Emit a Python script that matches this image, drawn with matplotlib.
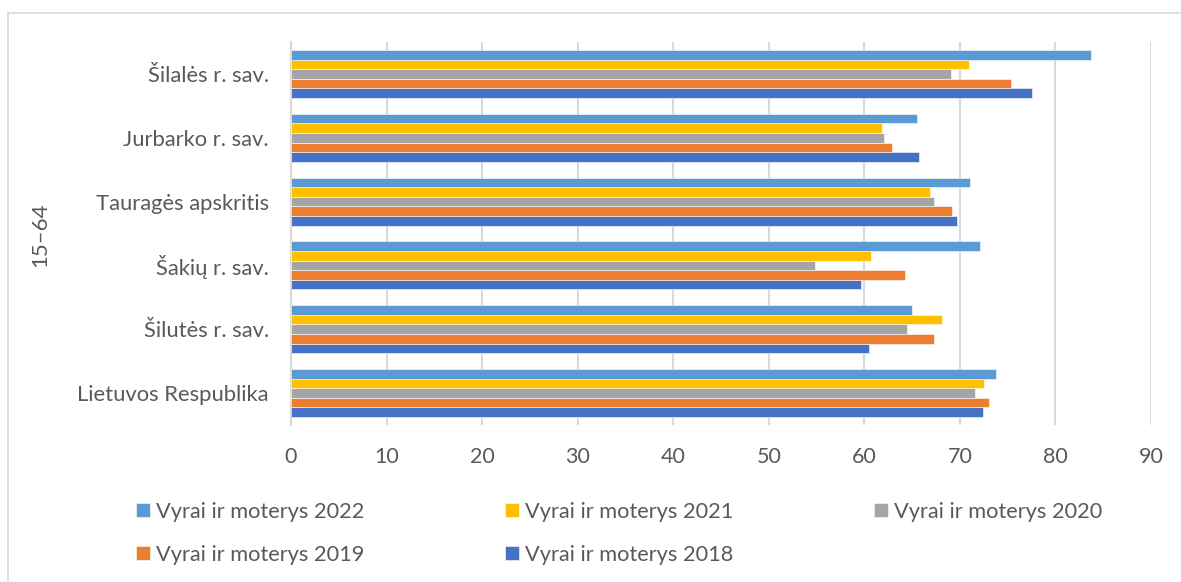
import numpy as np
import matplotlib.pyplot as plt
from matplotlib.patches import Rectangle

# kategorijos (iš apačios į viršų)
regions = ["Lietuvos Respublika", "Šilutės r. sav.", "Šakių r. sav.",
           "Tauragės apskritis", "Jurbarko r. sav.", "Šilalės r. sav."]
years = ["2018", "2019", "2020", "2021", "2022"]
v2018 = [72.4, 60.5, 59.7, 69.7, 65.7, 77.5]
v2019 = [73.0, 67.3, 64.3, 69.2, 62.9, 75.3]
v2020 = [71.6, 64.5, 54.8, 67.3, 62.1, 69.1]
v2021 = [72.5, 68.1, 60.7, 66.9, 61.8, 71.0]
v2022 = [73.8, 65.0, 72.1, 71.1, 65.5, 83.7]
x_ticks = [0, 10, 20, 30, 40, 50, 60, 70, 80, 90]

colors = ["#4472C4", "#ED7D31", "#A5A5A5", "#FFC000", "#5B9BD5"]
txt = "#595959"

plt.rcParams['font.family'] = ['Lato', 'DejaVu Sans']

fig = plt.figure(figsize=(11.81, 5.82), dpi=100)
ax = fig.add_axes([291 / 1181, 1 - 425 / 582, 860 / 1181, 383 / 582])

y = np.arange(len(regions))
h = 0.15
bars = []
for i, vals in enumerate([v2018, v2019, v2020, v2021, v2022]):
    b = ax.barh(y + (i - 2) * h, vals, height=h, color=colors[i],
                edgecolor="white", linewidth=0.4, zorder=3,
                label="Vyrai ir moterys " + years[i])
    bars.append(b)

ax.set_xlim(0, 90)
ax.set_ylim(-0.5, len(regions) - 0.5)
ax.set_xticks(x_ticks)
ax.set_yticks(y)
ax.set_yticklabels(regions)
ax.grid(axis="x", color="#d9d9d9", linewidth=1.5, zorder=0)
for s in ["top", "right", "bottom"]:
    ax.spines[s].set_visible(False)
ax.spines["left"].set_color("#d9d9d9")
ax.spines["left"].set_linewidth(1.5)
ax.tick_params(axis="x", length=0, pad=16, labelsize=15.5, labelcolor=txt)
ax.tick_params(axis="y", length=0, pad=16, labelsize=15.8, labelcolor=txt)

fig.text(40 / 1181, 1 - 235 / 582, "15–64", rotation=90, ha="center",
         va="center", fontsize=16, color=txt)

# legenda: trys stulpeliai
cols = [([4, 1], 136), ([3, 0], 505), ([2], 874)]
for idx, xpx in cols:
    leg = fig.legend([bars[k] for k in idx], [bars[k].get_label() for k in idx],
                     loc="upper left", bbox_to_anchor=(xpx / 1181, 1 - 502 / 582),
                     frameon=False, fontsize=15.7, labelcolor=txt,
                     handlelength=0.62, handleheight=0.62, handletextpad=0.3,
                     labelspacing=1.05, borderpad=0, borderaxespad=0)

fig.add_artist(Rectangle((8 / 1181, -0.1), 1.2, 1 - 13 / 582 + 0.1,
                         transform=fig.transFigure, fill=False,
                         edgecolor="#d9d9d9", linewidth=1.2))

fig.savefig("out.png", dpi=100)
